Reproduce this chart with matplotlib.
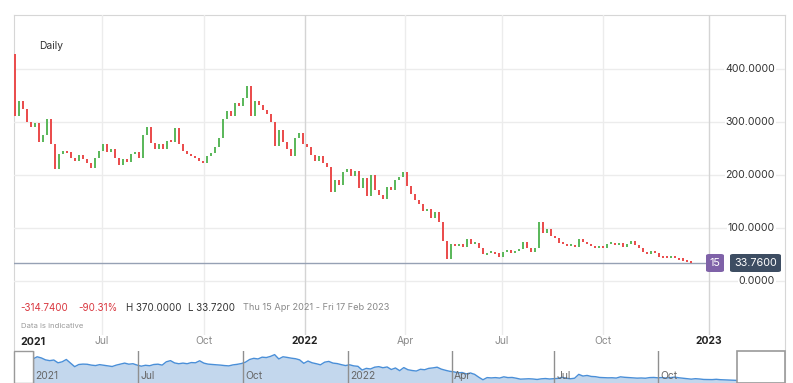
import matplotlib
matplotlib.use('Agg')
import matplotlib.pyplot as plt
from matplotlib.patches import Rectangle, FancyBboxPatch
import numpy as np

plt.rcParams['font.family'] = ['Inter', 'DejaVu Sans']

W, H = 793, 383  # figure size in pixels

first_open = 428.0
closes = [
    312, 340, 325, 300, 290, 298, 262, 275, 305, 258,
    212, 240, 245, 243, 232, 226, 238, 230, 222, 214,
    232, 245, 258, 244, 250, 232, 218, 230, 224, 240,
    244, 232, 275, 290, 260, 250, 258, 250, 265, 262,
    288, 258, 245, 240, 236, 232, 226, 222, 235, 242,
    252, 270, 305, 320, 312, 335, 330, 345, 368, 312,
    340, 332, 322, 315, 300, 255, 285, 262, 250, 236,
    270, 280, 258, 252, 238, 226, 236, 222, 216, 168,
    190, 182, 205, 212, 198, 208, 175, 195, 160, 200,
    172, 162, 155, 178, 172, 190, 196, 205, 180, 165,
    152, 145, 132, 136, 118, 130, 112, 75, 42, 70,
    66, 70, 64, 80, 70, 72, 62, 50, 53, 55,
    52, 46, 54, 58, 52, 56, 60, 74, 62, 55,
    62, 112, 90, 98, 85, 82, 72, 70, 67, 68,
    64, 80, 74, 70, 66, 63, 65, 62, 70, 72,
    67, 71, 64, 70, 76, 68, 62, 55, 50, 56,
    52, 46, 45, 44, 48, 43, 41, 40, 37, 34,
]

y_ticks = [0, 100, 200, 300, 400]
y_tick_labels = ['0.0000', '100.0000', '200.0000', '300.0000', '400.0000']

x_tick_pos = [21.75, 47.25, 72.5, 97.5, 121.75, 147.0, 173.5]
x_tick_labels = ['Jul', 'Oct', '2022', 'Apr', 'Jul', 'Oct', '2023']

nav_tick_pos = [0, 25.2, 50.4, 75.6, 100.6, 125.1, 150.0]
nav_tick_labels = ['2021', 'Jul', 'Oct', '2022', 'Apr', 'Jul', 'Oct']

last_price = 33.76
last_label = '33.7600'
interval_label = '15'
change_abs = '-314.7400'
change_pct = '-90.31%'
high_txt = 'H 370.0000'
low_txt = 'L 33.7200'
range_txt = 'Thu 15 Apr 2021 - Fri 17 Feb 2023'

UP = '#5cb85c'
DOWN = '#ea4e4e'
GRID = '#ececec'
GRID_YEAR = '#d4d4d4'


def fx(px):
    return px / W


def fy(py):
    return 1 - py / H


fig = plt.figure(figsize=(W / 100, H / 100), dpi=100)

# outer frame
frame = fig.add_axes([fx(14), 0, fx(785) - fx(14), fy(15)])
frame.set_xticks([])
frame.set_yticks([])
for side in ['left', 'top', 'right']:
    frame.spines[side].set_color('#d6d6d6')
frame.spines['bottom'].set_visible(False)
frame.patch.set_alpha(0)

# main price panel
ax = fig.add_axes([fx(14), fy(335), fx(785) - fx(14), fy(15) - fy(335)])
ax.patch.set_alpha(0)
for s in ax.spines.values():
    s.set_visible(False)
ax.set_xlim(-0.25, 192.5)
ax.set_ylim(-101.9, 501.9)
ax.set_xticks([])
ax.set_yticks([])

for v in y_ticks:
    ax.axhline(v, color=GRID, lw=1, zorder=0)
for pos, lab in zip(x_tick_pos, x_tick_labels):
    ax.axvline(pos, color=GRID_YEAR if lab.startswith('20') else GRID, lw=1, zorder=0)

opens = [first_open] + closes[:-1]
idx = np.arange(len(closes))
for i, o, c in zip(idx, opens, closes):
    col = UP if c >= o else DOWN
    lo, hi = min(o, c), max(o, c)
    if hi - lo < 4:
        mid = (hi + lo) / 2
        lo, hi = mid - 2, mid + 2
    ax.bar(i, hi - lo, bottom=lo, width=0.6, color=col, linewidth=0, zorder=3)

# last price line
ax.plot([-0.25, 172.5], [last_price, last_price], color='#96a1b4', lw=1, zorder=2)

for v, lab in zip(y_ticks, y_tick_labels):
    ax.text(190, v, lab, ha='right', va='center', fontsize=7.6, color='#333333',
            bbox=dict(facecolor='white', edgecolor='none', pad=0.6), zorder=4)

# x axis labels under the price panel
fig.text(fx(20), fy(342), '2021', ha='left', va='center', fontsize=7.6,
         color='#222222', fontweight='bold')
for pos, lab in zip(x_tick_pos, x_tick_labels):
    is_year = lab.startswith('20')
    ax.text(pos, -114, lab, ha='center', va='center', fontsize=7.4,
            color='#222222' if is_year else '#8a8a8a',
            fontweight='bold' if is_year else 'normal', clip_on=False)

# badges for the last price
fig.patches.append(FancyBboxPatch((fx(706), fy(272)), fx(18), fy(254) - fy(272),
                                  boxstyle='round,pad=0,rounding_size=0.004',
                                  transform=fig.transFigure, facecolor='#7f62a8',
                                  edgecolor='none'))
fig.text(fx(715), fy(263), interval_label, ha='center', va='center', fontsize=7.8, color='white')
fig.patches.append(FancyBboxPatch((fx(730), fy(272)), fx(51), fy(254) - fy(272),
                                  boxstyle='round,pad=0,rounding_size=0.004',
                                  transform=fig.transFigure, facecolor='#3d4d62',
                                  edgecolor='none'))
fig.text(fx(755.5), fy(263), last_label, ha='center', va='center', fontsize=7.8, color='white')

# header / footer texts
fig.text(fx(39), fy(46), 'Daily', ha='left', va='center', fontsize=7.4, color='#333333')
fig.text(fx(20), fy(308), change_abs, ha='left', va='center', fontsize=7.0, color='#d9363e')
fig.text(fx(78), fy(308), change_pct, ha='left', va='center', fontsize=7.0, color='#d9363e')
fig.text(fx(126), fy(308), high_txt, ha='left', va='center', fontsize=7.0, color='#333333')
fig.text(fx(188), fy(308), low_txt, ha='left', va='center', fontsize=7.0, color='#333333')
fig.text(fx(243), fy(308), range_txt, ha='left', va='center', fontsize=6.6, color='#888888')
fig.text(fx(21), fy(326), 'Data is indicative', ha='left', va='center', fontsize=5.6, color='#9a9a9a')

# navigator
nav = fig.add_axes([fx(14), 0, fx(785) - fx(14), fy(351)])
nav.patch.set_alpha(0)
for s in nav.spines.values():
    s.set_visible(False)
nav.set_xticks([])
nav.set_yticks([])
nav.set_xlim(-4.56, 180.5)
nav.set_ylim(0, 415)
nav.fill_between(idx, closes, 0, color='#c3d7ed', lw=0, zorder=1)
nav.plot(idx, closes, color='#4a8fd8', lw=1, zorder=2)
for pos, lab in zip(nav_tick_pos, nav_tick_labels):
    nav.axvline(pos, color='#8f8f8f', lw=1, zorder=3)
    nav.text(pos + 0.5, 95, lab, ha='left', va='center', fontsize=7.4, color='#666666', zorder=4)
nav.add_patch(Rectangle((-4.56, 0), 4.56, 415, facecolor='white', edgecolor='#9a9a9a',
                        lw=1, zorder=5, clip_on=False))
nav.add_patch(Rectangle((169, 0), 11.5, 415, facecolor='white', edgecolor='#9a9a9a',
                        lw=1.2, zorder=5, clip_on=False))

fig.savefig('out.png', dpi=100)
